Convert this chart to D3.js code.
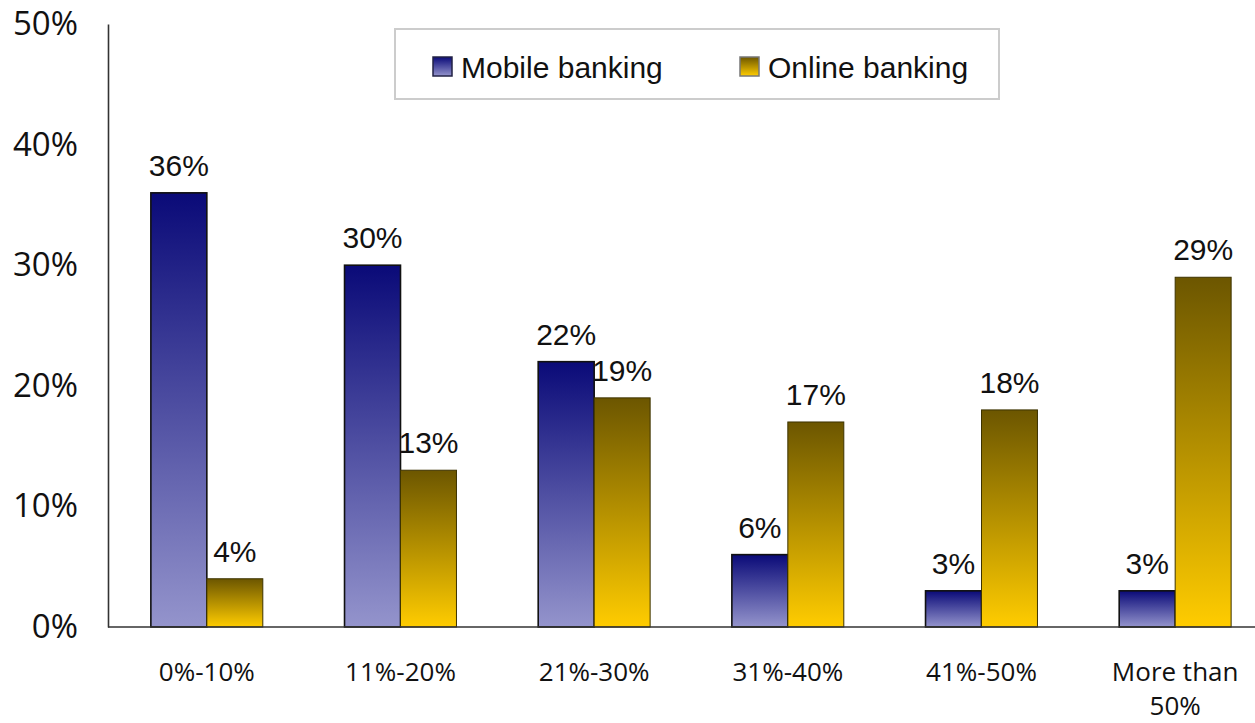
<!DOCTYPE html>
<html>
<head>
<meta charset="utf-8">
<script src="https://cdn.jsdelivr.net/npm/d3@7"></script>
<style>
  html, body { margin: 0; padding: 0; background: #ffffff; }
  svg { display: block; }
</style>
</head>
<body>
<svg id="chart" width="1255" height="723"></svg>
<script>
// Share of transactions per channel, grouped by band
const categories = ["0%-10%", "11%-20%", "21%-30%", "31%-40%", "41%-50%", "More than 50%"];
const seriesNames = ["Mobile banking", "Online banking"];
const mobileValues = [0.36, 0.30, 0.22, 0.06, 0.03, 0.03];
const onlineValues = [0.04, 0.13, 0.19, 0.17, 0.18, 0.29];
const yTicks = [0, 0.1, 0.2, 0.3, 0.4, 0.5];

const W = 1255, H = 723;
const svg = d3.select("#chart");

const x = d3.scaleBand().domain(categories).range([110, 1272]).paddingInner(0).paddingOuter(0);
const y = d3.scaleLinear().domain([0, 0.5]).range([627, 24]);
const barW = x.bandwidth() * 0.289;
const sub = d3.scaleBand().domain(seriesNames).range([-barW, barW]);

// gradients: dark at the top of every bar, light at the base
const defs = svg.append("defs");
const grads = [
  { id: "gMobile", top: "#0a0a78", bottom: "#9494cc" },
  { id: "gOnline", top: "#6c5600", bottom: "#ffcc00" }
];
grads.forEach(g => {
  const lg = defs.append("linearGradient").attr("id", g.id)
    .attr("x1", 0).attr("y1", 0).attr("x2", 0).attr("y2", 1);
  lg.append("stop").attr("offset", "0%").attr("stop-color", g.top);
  lg.append("stop").attr("offset", "100%").attr("stop-color", g.bottom);
});
const fills = { "Mobile banking": "url(#gMobile)", "Online banking": "url(#gOnline)" };
const strokes = { "Mobile banking": "#111111", "Online banking": "#3d3300" };
const strokeW = { "Mobile banking": 1.6, "Online banking": 1 };

const rows = categories.map((c, i) => ({
  cat: c,
  vals: [
    { s: seriesNames[0], v: mobileValues[i] },
    { s: seriesNames[1], v: onlineValues[i] }
  ]
}));

// y axis
const yAxis = d3.axisLeft(y).tickValues(yTicks).tickFormat(d3.format(".0%"))
  .tickSize(0).tickSizeOuter(0).tickPadding(30);
const gy = svg.append("g").attr("transform", "translate(108,0)").call(yAxis);
gy.select(".domain").attr("stroke", "#333333").attr("stroke-width", 1.6);
gy.selectAll(".tick text")
  .attr("font-family", "'Open Sans', 'Noto Sans', sans-serif")
  .attr("font-size", 33).attr("fill", "#111111");

// bars
const groups = svg.append("g").selectAll("g").data(rows).join("g")
  .attr("transform", d => `translate(${x(d.cat) + x.bandwidth() / 2},0)`);

groups.selectAll("rect").data(d => d.vals).join("rect")
  .attr("x", d => sub(d.s))
  .attr("y", d => y(d.v))
  .attr("width", sub.bandwidth())
  .attr("height", d => y(0) - y(d.v))
  .attr("fill", d => fills[d.s])
  .attr("stroke", d => strokes[d.s])
  .attr("stroke-width", d => strokeW[d.s]);

groups.selectAll("text.val").data(d => d.vals).join("text")
  .attr("class", "val")
  .attr("x", d => sub(d.s) + sub.bandwidth() / 2)
  .attr("y", d => y(d.v) - 17)
  .attr("text-anchor", "middle")
  .attr("font-family", "'Liberation Sans', Arial, sans-serif")
  .attr("font-size", 30).attr("fill", "#111111")
  .text(d => d3.format(".0%")(d.v));

// x axis
const xAxis = d3.axisBottom(x).tickSize(0).tickSizeOuter(0).tickPadding(0);
const gx = svg.append("g").attr("transform", `translate(0,${y(0)})`).call(xAxis);
gx.select(".domain").remove();
gx.selectAll(".tick text").each(function (d) {
  const t = d3.select(this);
  const words = d.split(" ");
  const lines = words.length > 2 ? [words.slice(0, 2).join(" "), words.slice(2).join(" ")] : [d];
  t.text(null).attr("y", 0).attr("dy", null)
    .attr("font-family", "'Open Sans', 'Noto Sans', sans-serif")
    .attr("font-size", 26).attr("fill", "#111111");
  lines.forEach((ln, i) => {
    t.append("tspan").attr("x", 0).attr("y", 54 + i * 34).text(ln);
  });
});
svg.append("line")
  .attr("x1", 108).attr("x2", W)
  .attr("y1", y(0)).attr("y2", y(0))
  .attr("stroke", "#333333").attr("stroke-width", 1.6);

// legend
const legend = svg.append("g");
legend.append("rect")
  .attr("x", 395).attr("y", 29).attr("width", 604).attr("height", 70)
  .attr("fill", "#ffffff").attr("stroke", "#cccccc").attr("stroke-width", 2);
const legendX = [433, 740];
seriesNames.forEach((s, i) => {
  legend.append("rect")
    .attr("x", legendX[i]).attr("y", 57).attr("width", 19).attr("height", 19)
    .attr("fill", fills[s])
    .attr("stroke", i === 0 ? "#222244" : "#777777").attr("stroke-width", 1.5);
  legend.append("text")
    .attr("x", legendX[i] + 28).attr("y", 78)
    .attr("font-family", "'Liberation Sans', Arial, sans-serif")
    .attr("font-size", 30).attr("fill", "#111111")
    .text(s);
});
</script>
</body>
</html>
